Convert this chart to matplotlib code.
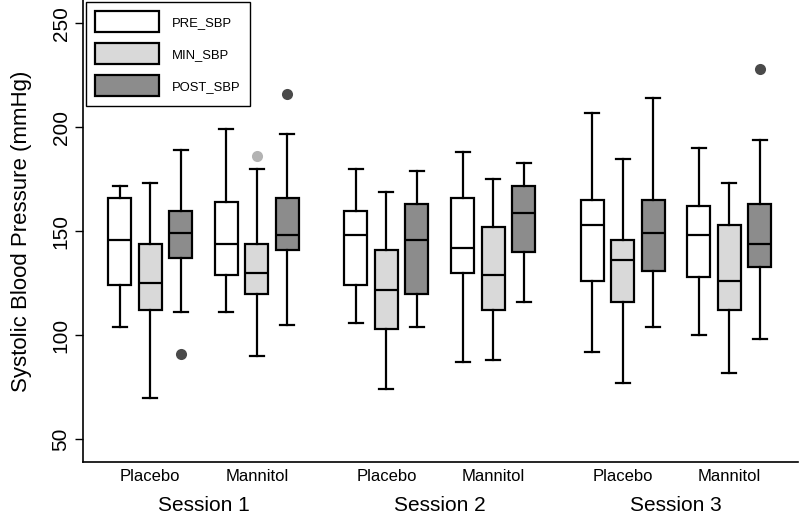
import numpy as np
import matplotlib.pyplot as plt
from matplotlib.patches import Patch

plt.rcParams['font.family'] = ['Liberation Sans', 'DejaVu Sans']

# 数据：每组顺序为 PRE, MIN, POST
sessions = ['Session 1', 'Session 2', 'Session 3']
treatments = ['Placebo', 'Mannitol', 'Placebo', 'Mannitol', 'Placebo', 'Mannitol']
measures = ['PRE_SBP', 'MIN_SBP', 'POST_SBP']

whislo = [104, 70, 111, 111, 90, 105,
          106, 74, 104, 87, 88, 116,
          92, 77, 104, 100, 82, 98]
q1 = [124, 112, 137, 129, 120, 141,
      124, 103, 120, 130, 112, 140,
      126, 116, 131, 128, 112, 133]
med = [146, 125, 149, 144, 130, 148,
       148, 122, 146, 142, 129, 159,
       153, 136, 149, 148, 126, 144]
q3 = [166, 144, 160, 164, 144, 166,
      160, 141, 163, 166, 152, 172,
      165, 146, 165, 162, 153, 163]
whishi = [172, 173, 189, 199, 180, 197,
          180, 169, 179, 188, 175, 183,
          207, 185, 214, 190, 173, 194]
outliers = [[], [], [91], [], [186], [216],
            [], [], [], [], [], [],
            [], [], [], [], [], [228]]

fills = ['#ffffff', '#d9d9d9', '#8c8c8c']
flier_colors = ['#4a4a4a', '#b3b3b3', '#4a4a4a']

# 位置
group_centers = [0, 3.5, 7.75, 11.25, 15.5, 19.0]
offsets = [-1, 0, 1]
positions = [c + o for c in group_centers for o in offsets]

stats = []
for i in range(len(med)):
    stats.append(dict(whislo=whislo[i], q1=q1[i], med=med[i], q3=q3[i],
                      whishi=whishi[i], fliers=outliers[i]))

fig = plt.figure(figsize=(8, 5.15), dpi=100)
ax = fig.add_axes([83 / 800, 1 - 462 / 515, 715 / 800, 462 / 515])

bp = ax.bxp(stats, positions=positions, widths=0.75, capwidths=0.46,
            patch_artist=True, showfliers=True,
            boxprops=dict(linewidth=1.6, edgecolor='black'),
            medianprops=dict(color='black', linewidth=1.6),
            whiskerprops=dict(color='black', linewidth=1.6),
            capprops=dict(color='black', linewidth=1.6),
            flierprops=dict(marker='o', markersize=8, markeredgewidth=0))

for i, box in enumerate(bp['boxes']):
    box.set_facecolor(fills[i % 3])
for i, fl in enumerate(bp['fliers']):
    fl.set_markerfacecolor(flier_colors[i % 3])

ax.set_xlim(-2.2, 21.25)
ax.set_ylim(39.1, 261.2)
ax.set_yticks([50, 100, 150, 200, 250])
ax.tick_params(axis='y', labelsize=15, length=6, width=1, pad=3,
               labelrotation=90)
for lab in ax.get_yticklabels():
    lab.set_va('center')
ax.set_xticks(group_centers)
ax.set_xticklabels(treatments)
ax.tick_params(axis='x', labelsize=12, length=0, pad=5)
ax.spines['top'].set_visible(False)
ax.spines['right'].set_visible(False)
ax.spines['left'].set_linewidth(1.2)
ax.spines['bottom'].set_linewidth(1.2)

ax.set_ylabel('Systolic Blood Pressure (mmHg)', fontsize=16, labelpad=14)

# 会话标签
for k, s in enumerate(sessions):
    xc = (group_centers[2 * k] + group_centers[2 * k + 1]) / 2
    ax.text(xc, -0.095, s, transform=ax.get_xaxis_transform(),
            ha='center', va='center', fontsize=15)

handles = [Patch(facecolor=fills[i], edgecolor='black', linewidth=1.6)
           for i in range(3)]
leg = ax.legend(handles, measures, loc='upper left',
                bbox_to_anchor=(86 / 800, 1 - 2 / 515),
                bbox_transform=fig.transFigure, borderaxespad=0,
                fontsize=9.4, handlelength=4.9, handleheight=2.1,
                labelspacing=0.85, handletextpad=1.0, borderpad=0.7,
                fancybox=False, edgecolor='black', framealpha=1)
leg.get_frame().set_linewidth(1.0)

fig.savefig('out.png', dpi=100)
